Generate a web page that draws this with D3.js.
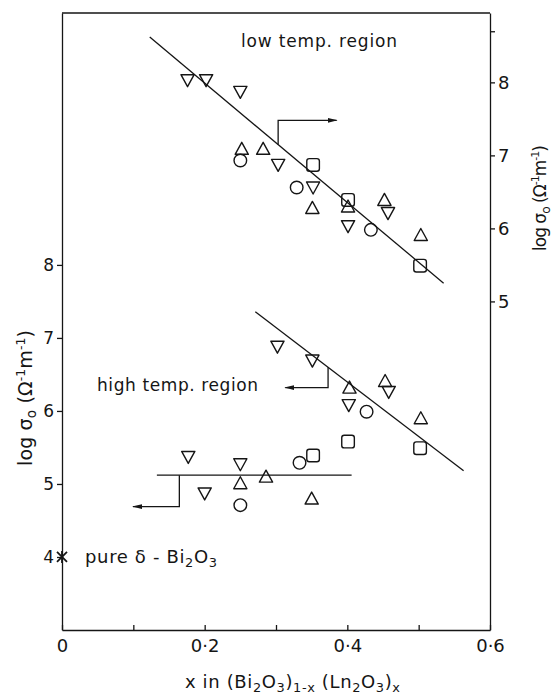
<!DOCTYPE html>
<html>
<head>
<meta charset="utf-8">
<script src="https://cdn.jsdelivr.net/npm/d3@7"></script>
<style>
  body { margin: 0; background: #fff; }
  svg { display: block; }
  text { font-family: "DejaVu Sans", sans-serif; fill: #151515; }
</style>
</head>
<body>
<svg id="chart" width="553" height="696"></svg>
<script>
// Axis ticks
const xTicks = [0, 0.2, 0.4, 0.6];
const xMinorTicks = [0.1, 0.3, 0.5];
const leftTicks = [4, 5, 6, 7, 8];
const rightTicks = [5, 6, 7, 8];
const rightMinorTicks = [8.7];

// Low temperature region: log sigma0 read on the right-hand axis
const lowX     = [0.176, 0.202, 0.250, 0.252, 0.250, 0.282, 0.303, 0.352, 0.329, 0.352, 0.351, 0.401, 0.401, 0.401, 0.433, 0.452, 0.457, 0.503, 0.502];
const lowLog   = [8.03,  8.03,  7.87,  7.09,  6.93,  7.09,  6.87,  6.87,  6.56,  6.56,  6.28,  6.39,  6.30,  6.03,  5.98,  6.39,  6.21,  5.91,  5.49];
const lowShape = ["down","down","down","up","circle","up","down","square","circle","down","up","square","up","down","circle","up","down","up","square"];

// High temperature region: log sigma0 read on the left-hand axis
const highX     = [0.302, 0.351, 0.403, 0.402, 0.427, 0.453, 0.458, 0.503, 0.502, 0.401, 0.352, 0.333, 0.350, 0.177, 0.250, 0.250, 0.286, 0.200, 0.250];
const highLog   = [6.88,  6.69,  6.32,  6.08,  5.99,  6.41,  6.26,  5.90,  5.49,  5.58,  5.39,  5.29,  4.80,  5.37,  5.27,  5.01,  5.10,  4.87,  4.71];
const highShape = ["down","down","up","down","circle","up","down","up","square","square","square","circle","up","down","down","up","up","down","circle"];

// Pure delta-Bi2O3 reference point (left axis)
const pureX = [0];
const pureLog = [4.0];

// Fitted lines [x, log sigma0]
const lowFit  = [[0.123, 8.62], [0.535, 5.25]];   // right axis
const highFit = [[0.271, 7.36], [0.563, 5.18]];   // left axis
const flatFit = [[0.133, 5.12], [0.406, 5.12]];   // left axis

// Axis pointers drawn from each fit line
const lowArrow  = [[0.303, 7.15], [0.303, 7.48], [0.385, 7.48]];   // right axis
const highArrow = [[0.373, 6.60], [0.373, 6.32], [0.313, 6.32]];   // left axis
const flatArrow = [[0.1645, 5.12], [0.1645, 4.69], [0.0995, 4.69]]; // left axis

const svg = d3.select("#chart");
const L = 62, R = 490, T = 13, B = 630;

const x  = d3.scaleLinear().domain([0, 0.6]).range([L, R]);
const yL = d3.scaleLinear().domain([3, 11.45]).range([B, T]);
const yR = d3.scaleLinear().domain([0.5, 8.95]).range([B, T]);

const ink = "#151515";

// arrowhead
svg.append("defs").append("marker")
  .attr("id", "head").attr("viewBox", "0 0 10 6")
  .attr("refX", 9).attr("refY", 3)
  .attr("markerWidth", 10).attr("markerHeight", 6)
  .attr("markerUnits", "userSpaceOnUse")
  .attr("orient", "auto")
  .append("path").attr("d", "M0,0.6 L10,3 L0,5.4 Z").attr("fill", ink);

// frame top edge
svg.append("line").attr("x1", L).attr("x2", R).attr("y1", T).attr("y2", T)
  .attr("stroke", ink).attr("stroke-width", 1.3);

// bottom axis, ticks pointing inward
const fmtX = d => d === 0 ? "0" : d3.format(".1f")(d).replace(".", "·");
const gx = svg.append("g").attr("transform", `translate(0,${B})`)
  .call(d3.axisBottom(x).tickValues(xTicks).tickSize(-5).tickSizeOuter(0).tickPadding(9).tickFormat(fmtX));
gx.selectAll("text").attr("font-size", 18).style("font-family", '"DejaVu Sans", sans-serif').attr("fill", ink);
svg.append("g").attr("transform", `translate(0,${B})`)
  .call(d3.axisBottom(x).tickValues(xMinorTicks).tickSize(-5).tickSizeOuter(0).tickFormat(""))
  .select(".domain").remove();

// left axis
const gl = svg.append("g").attr("transform", `translate(${L},0)`)
  .call(d3.axisLeft(yL).tickValues(leftTicks).tickSize(5).tickSizeOuter(0).tickPadding(3).tickFormat(d3.format("d")));
gl.selectAll("text").attr("font-size", 17).style("font-family", '"DejaVu Sans", sans-serif').attr("fill", ink);

// right axis
const gr = svg.append("g").attr("transform", `translate(${R},0)`)
  .call(d3.axisRight(yR).tickValues(rightTicks).tickSize(5).tickSizeOuter(0).tickPadding(3).tickFormat(d3.format("d")));
gr.selectAll("text").attr("font-size", 18).style("font-family", '"DejaVu Sans", sans-serif').attr("fill", ink);
svg.append("g").attr("transform", `translate(${R},0)`)
  .call(d3.axisRight(yR).tickValues(rightMinorTicks).tickSize(5).tickSizeOuter(0).tickFormat(""))
  .select(".domain").remove();

svg.selectAll(".domain, .tick line").attr("stroke", ink).attr("stroke-width", 1.3);

// fit lines and pointers
const line = (ys) => d3.line().x(d => x(d[0])).y(d => ys(d[1]));
const drawPath = (pts, ys, arrow) => {
  const p = svg.append("path").attr("d", line(ys)(pts))
    .attr("fill", "none").attr("stroke", ink).attr("stroke-width", 1.3);
  if (arrow) p.attr("marker-end", "url(#head)");
};
drawPath(lowFit, yR);
drawPath(highFit, yL);
drawPath(flatFit, yL);
drawPath(lowArrow, yR, true);
drawPath(highArrow, yL, true);
drawPath(flatArrow, yL, true);

// markers
function marker(shape, cx, cy) {
  const g = svg.append("g").attr("fill", "none").attr("stroke", ink).attr("stroke-width", 1.4);
  if (shape === "up") {
    g.append("path").attr("d", `M${cx},${cy - 6.5} L${cx + 6.6},${cy + 5.5} L${cx - 6.6},${cy + 5.5} Z`).attr("stroke-linejoin", "round");
  } else if (shape === "down") {
    g.append("path").attr("d", `M${cx},${cy + 6.5} L${cx + 6.6},${cy - 5.5} L${cx - 6.6},${cy - 5.5} Z`).attr("stroke-linejoin", "round");
  } else if (shape === "circle") {
    g.append("circle").attr("cx", cx).attr("cy", cy).attr("r", 6.3);
  } else if (shape === "square") {
    g.append("rect").attr("x", cx - 6.3).attr("y", cy - 6.3).attr("width", 12.6).attr("height", 12.6).attr("rx", 2.5);
  }
}
lowX.forEach((v, i) => marker(lowShape[i], x(v), yR(lowLog[i])));
highX.forEach((v, i) => marker(highShape[i], x(v), yL(highLog[i])));

// pure delta-Bi2O3 asterisk
pureX.forEach((v, i) => {
  const cx = x(v), cy = yL(pureLog[i]), r = 5;
  const g = svg.append("g").attr("stroke", ink).attr("stroke-width", 1.8);
  g.append("line").attr("x1", cx - r).attr("y1", cy - r).attr("x2", cx + r).attr("y2", cy + r);
  g.append("line").attr("x1", cx - r).attr("y1", cy + r).attr("x2", cx + r).attr("y2", cy - r);
  g.append("line").attr("x1", cx).attr("y1", cy - r - 1).attr("x2", cx).attr("y2", cy + r + 1);
});

// annotations
svg.append("text").attr("x", 241).attr("y", 47).attr("font-size", 17)
  .attr("textLength", 156).attr("lengthAdjust", "spacing").text("low temp. region");
svg.append("text").attr("x", 97).attr("y", 391).attr("font-size", 17)
  .attr("textLength", 161).attr("lengthAdjust", "spacing").text("high temp. region");

// subscript helper
function rich(sel, parts, size) {
  parts.forEach(p => {
    const t = sel.append("tspan").text(p.t);
    if (p.sub) t.attr("font-size", size * 0.72).attr("dy", p.dy);
    else if (p.sup) t.attr("font-size", size * 0.65).attr("dy", p.dy);
    else if (p.dy) t.attr("dy", p.dy);
  });
}

const pure = svg.append("text").attr("x", 85).attr("y", 563).attr("font-size", 18)
  .attr("textLength", 132).attr("lengthAdjust", "spacing");
rich(pure, [
  {t: "pure  δ - Bi"}, {t: "2", sub: true, dy: 4}, {t: "O", dy: -4}, {t: "3", sub: true, dy: 4}
], 18);

// x-axis title
const xt = svg.append("text").attr("x", 185).attr("y", 688).attr("font-size", 18)
  .attr("textLength", 215).attr("lengthAdjust", "spacing");
rich(xt, [
  {t: "x in (Bi"}, {t: "2", sub: true, dy: 4}, {t: "O", dy: -4}, {t: "3", sub: true, dy: 4},
  {t: ")", dy: -4}, {t: "1-x", sub: true, dy: 4}, {t: " (Ln", dy: -4}, {t: "2", sub: true, dy: 4},
  {t: "O", dy: -4}, {t: "3", sub: true, dy: 4}, {t: ")", dy: -4}, {t: "x", sub: true, dy: 4}
], 18);

// y-axis titles
function yTitle(tx, ty, size, len) {
  const t = svg.append("text").attr("transform", `translate(${tx},${ty}) rotate(-90)`)
    .attr("text-anchor", "middle").attr("font-size", size)
    .attr("textLength", len).attr("lengthAdjust", "spacing");
  rich(t, [
    {t: "log σ"}, {t: "o", sub: true, dy: 4}, {t: " (Ω", dy: -4}, {t: "-1", sup: true, dy: -7},
    {t: "m", dy: 7}, {t: "-1", sup: true, dy: -7}, {t: ")", dy: 7}
  ], size);
}
yTitle(32, 398, 19, 136);
yTitle(546, 198, 17, 106);
</script>
</body>
</html>
